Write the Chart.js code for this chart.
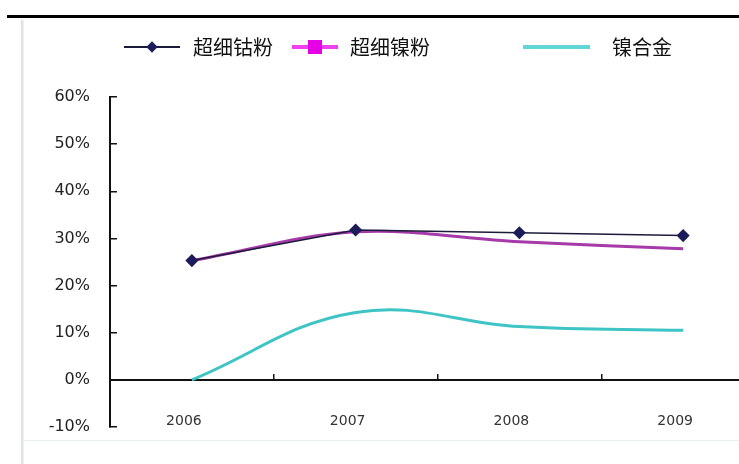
<!DOCTYPE html>
<html lang="zh-CN">
<head>
    <meta charset="UTF-8">
    <title>超细钴粉 超细镍粉 镍合金</title>
    <style>
        body {
            margin: 0;
            padding: 0;
            background-color: white;
        }
        .frame {
            position: relative;
            width: 739px;
            height: 464px;
            overflow: hidden;
            background: white;
        }
        .rule-top {
            position: absolute;
            left: 7px;
            right: 0;
            top: 15px;
            height: 3px;
            background: #000;
        }
        .rule-left {
            position: absolute;
            left: 21px;
            top: 20px;
            bottom: 0;
            width: 3px;
            background: linear-gradient(to right, #d3e0da, #eef5f1);
        }
        .rule-bottom {
            position: absolute;
            left: 24px;
            right: 0;
            top: 440px;
            height: 1px;
            background: #e6f1eb;
        }
        .chart-box {
            position: absolute;
            left: 0;
            top: 0;
        }
        .legend-text {
            position: absolute;
            top: 34px;
            font-family: "Noto Sans CJK SC", sans-serif;
            font-size: 20px;
            line-height: 26px;
            color: #111;
            white-space: nowrap;
        }
        .legend-line, .legend-marker {
            position: absolute;
        }
    </style>
    <script src="https://cdn.jsdelivr.net/npm/chart.js"></script>
</head>
<body>
    <div class="frame" id="frame">
        <div class="rule-top"></div>
        <div class="rule-left"></div>
        <div class="rule-bottom"></div>
        <div class="chart-box">
            <canvas id="powderChart" width="775" height="464"></canvas>
        </div>
    </div>

    <script>
        // values (percent)
        const years = ['2006', '2007', '2008', '2009'];
        const seriesNames = ['超细钴粉', '超细镍粉', '镍合金'];
        const cobaltPowder = [25.3, 31.8, 31.2, 30.6];
        const nickelPowder = [25.3, 31.4, 29.3, 27.8];
        const nickelAlloy = [0, 14.3, 11.3, 10.5];

        const colors = {
            cobalt: '#1b1b3a',
            cobaltPoint: '#1c1c5a',
            nickel: '#a53aa8',
            alloy: '#3ec4c4'
        };

        // html legend, placed like the original
        const legendLayout = [
            { from: 124, to: 180, color: '#1b1b3a', width: 2, marker: 'diamond', markerColor: '#1c1c5a', textX: 193 },
            { from: 292, to: 338, color: '#f040f0', width: 4, marker: 'square', markerColor: '#e600e6', textX: 350 },
            { from: 523, to: 590, color: '#62d6d6', width: 4, marker: null, textX: 612 }
        ];
        const legendY = 47;
        const frame = document.getElementById('frame');

        seriesNames.forEach(function(name, i) {
            const l = legendLayout[i];
            const line = document.createElement('div');
            line.className = 'legend-line';
            line.style.left = l.from + 'px';
            line.style.width = (l.to - l.from) + 'px';
            line.style.top = (legendY - l.width / 2) + 'px';
            line.style.height = l.width + 'px';
            line.style.background = l.color;
            frame.appendChild(line);

            if (l.marker) {
                const m = document.createElement('div');
                m.className = 'legend-marker';
                const size = l.marker === 'square' ? 14 : 8;
                const cx = (l.from + l.to) / 2;
                m.style.left = (cx - size / 2) + 'px';
                m.style.top = (legendY - size / 2) + 'px';
                m.style.width = size + 'px';
                m.style.height = size + 'px';
                m.style.background = l.markerColor;
                if (l.marker === 'diamond') m.style.transform = 'rotate(45deg)';
                frame.appendChild(m);
            }

            const t = document.createElement('span');
            t.className = 'legend-text';
            t.style.left = l.textX + 'px';
            t.textContent = name;
            frame.appendChild(t);
        });

        new Chart(document.getElementById('powderChart'), {
            type: 'line',
            data: {
                labels: years,
                datasets: [
                    {
                        label: seriesNames[0],
                        data: cobaltPowder,
                        borderColor: colors.cobalt,
                        borderWidth: 1.5,
                        pointStyle: 'rectRot',
                        pointRadius: 5.5,
                        pointBackgroundColor: colors.cobaltPoint,
                        pointBorderColor: colors.cobaltPoint,
                        tension: 0
                    },
                    {
                        label: seriesNames[1],
                        data: nickelPowder,
                        borderColor: colors.nickel,
                        borderWidth: 3,
                        pointRadius: 0,
                        tension: 0.35
                    },
                    {
                        label: seriesNames[2],
                        data: nickelAlloy,
                        borderColor: colors.alloy,
                        borderWidth: 3,
                        pointRadius: 0,
                        tension: 0.4
                    }
                ]
            },
            options: {
                responsive: false,
                animation: false,
                layout: {
                    padding: { top: 97, bottom: 37, left: 0, right: 10 }
                },
                plugins: {
                    legend: { display: false },
                    tooltip: { enabled: false }
                },
                scales: {
                    x: {
                        position: { y: 0 },
                        offset: true,
                        grid: {
                            drawOnChartArea: false,
                            offset: true,
                            tickLength: -7,
                            color: '#111',
                            lineWidth: 1.5
                        },
                        border: { display: true, color: '#111', width: 2 },
                        ticks: {
                            font: { family: 'DejaVu Sans', size: 14 },
                            color: '#333',
                            padding: 40,
                            labelOffset: -8
                        }
                    },
                    y: {
                        min: -10,
                        max: 60,
                        ticks: {
                            stepSize: 10,
                            callback: function(v) { return v + '%'; },
                            font: { family: 'DejaVu Sans', size: 16 },
                            color: '#222',
                            padding: 27
                        },
                        grid: {
                            drawOnChartArea: false,
                            tickLength: -7,
                            color: '#111',
                            lineWidth: 1.5
                        },
                        border: { color: '#111', width: 2 },
                        afterFit: function(scale) { scale.width = 110; }
                    }
                }
            }
        });
    </script>
</body>
</html>
